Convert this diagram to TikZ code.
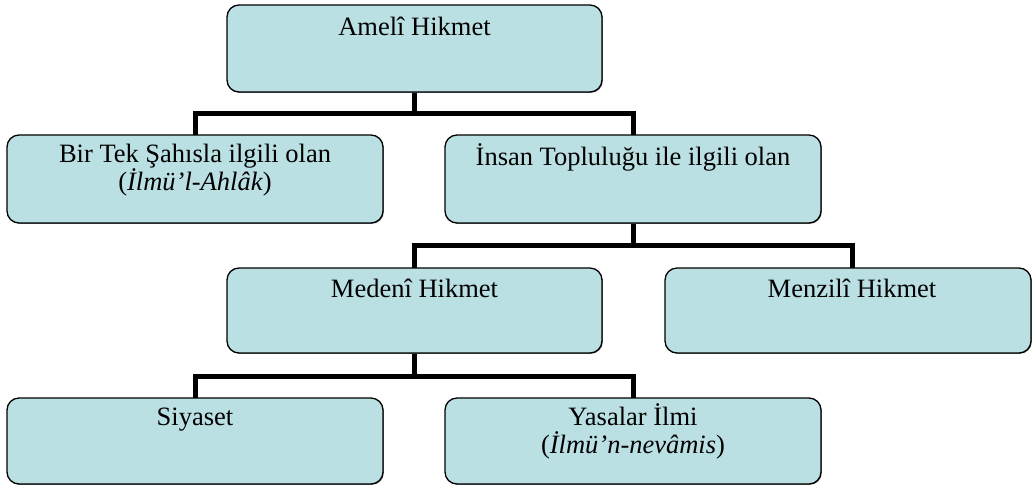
\documentclass[tikz,border=0pt]{standalone}
\usepackage{fontspec}
\setmainfont{Liberation Serif}
\usetikzlibrary{backgrounds,shadows}
\definecolor{boxfill}{RGB}{187,224,227}
\tikzset{
  box/.style={draw=black, line width=1.3pt, fill=boxfill, rounded corners=12pt,
    inner sep=0pt, outer sep=0pt,
    general shadow={fill=black!55, shadow xshift=0.8pt, shadow yshift=-0.8pt}},
  lbl/.style={anchor=base, inner sep=0pt, font=\fontsize{26.5}{22}\selectfont},
  conn/.style={line width=5pt, black, line join=miter}
}
\newcommand{\twoline}[2]{\begin{tabular}[t]{@{}c@{}}#1\\#2\end{tabular}}
\begin{document}
\begin{tikzpicture}[x=1pt,y=-1pt]
\useasboundingbox (0,0) rectangle (1032,488);
% boxes
\node[box, minimum width=375pt, minimum height=87pt] (A) at (414.5,48.5) {};
\node[box, minimum width=376pt, minimum height=88pt] (B) at (195,179) {};
\node[box, minimum width=376pt, minimum height=88pt] (C) at (633,179) {};
\node[box, minimum width=375pt, minimum height=85pt] (D) at (414.5,310.5) {};
\node[box, minimum width=366pt, minimum height=85pt] (E) at (848,310.5) {};
\node[box, minimum width=376pt, minimum height=86pt] (F) at (195,441) {};
\node[box, minimum width=376pt, minimum height=86pt] (G) at (633,441) {};
% labels
\node[lbl] (tA) at ([yshift=-30pt]A.north) {Amelî Hikmet};
\node[lbl] (tB) at ([yshift=-27pt]B.north) {\twoline{Bir Tek Şahısla ilgili olan}{(\textit{İlmü’l-Ahlâk})}};
\node[lbl] (tC) at ([yshift=-30pt]C.north) {İnsan Topluluğu ile ilgili olan};
\node[lbl] (tD) at ([yshift=-29pt]D.north) {Medenî Hikmet};
\node[lbl] (tE) at (852,297) {Menzilî Hikmet};
\node[lbl] (tF) at ([yshift=-27pt]F.north) {Siyaset};
\node[lbl] (tG) at ([yshift=-27pt]G.north) {\twoline{Yasalar İlmi}{(\textit{İlmü’n-nevâmis})}};
% junctions
\coordinate (j1) at (414.5,113);
\coordinate (j2) at (633,245);
\coordinate (j3) at (414.5,376);
\coordinate (eTop) at (852,268);
\begin{scope}[on background layer]
\draw[conn] (A.south) -- (j1);
\draw[conn] (j1) -| (B.north);
\draw[conn] (j1) -| (C.north);
\draw[conn] (C.south) -- (j2);
\draw[conn] (j2) -| (D.north);
\draw[conn] (j2) -| (eTop);
\draw[conn] (D.south) -- (j3);
\draw[conn] (j3) -| (F.north);
\draw[conn] (j3) -| (G.north);
\end{scope}
\end{tikzpicture}
\end{document}
